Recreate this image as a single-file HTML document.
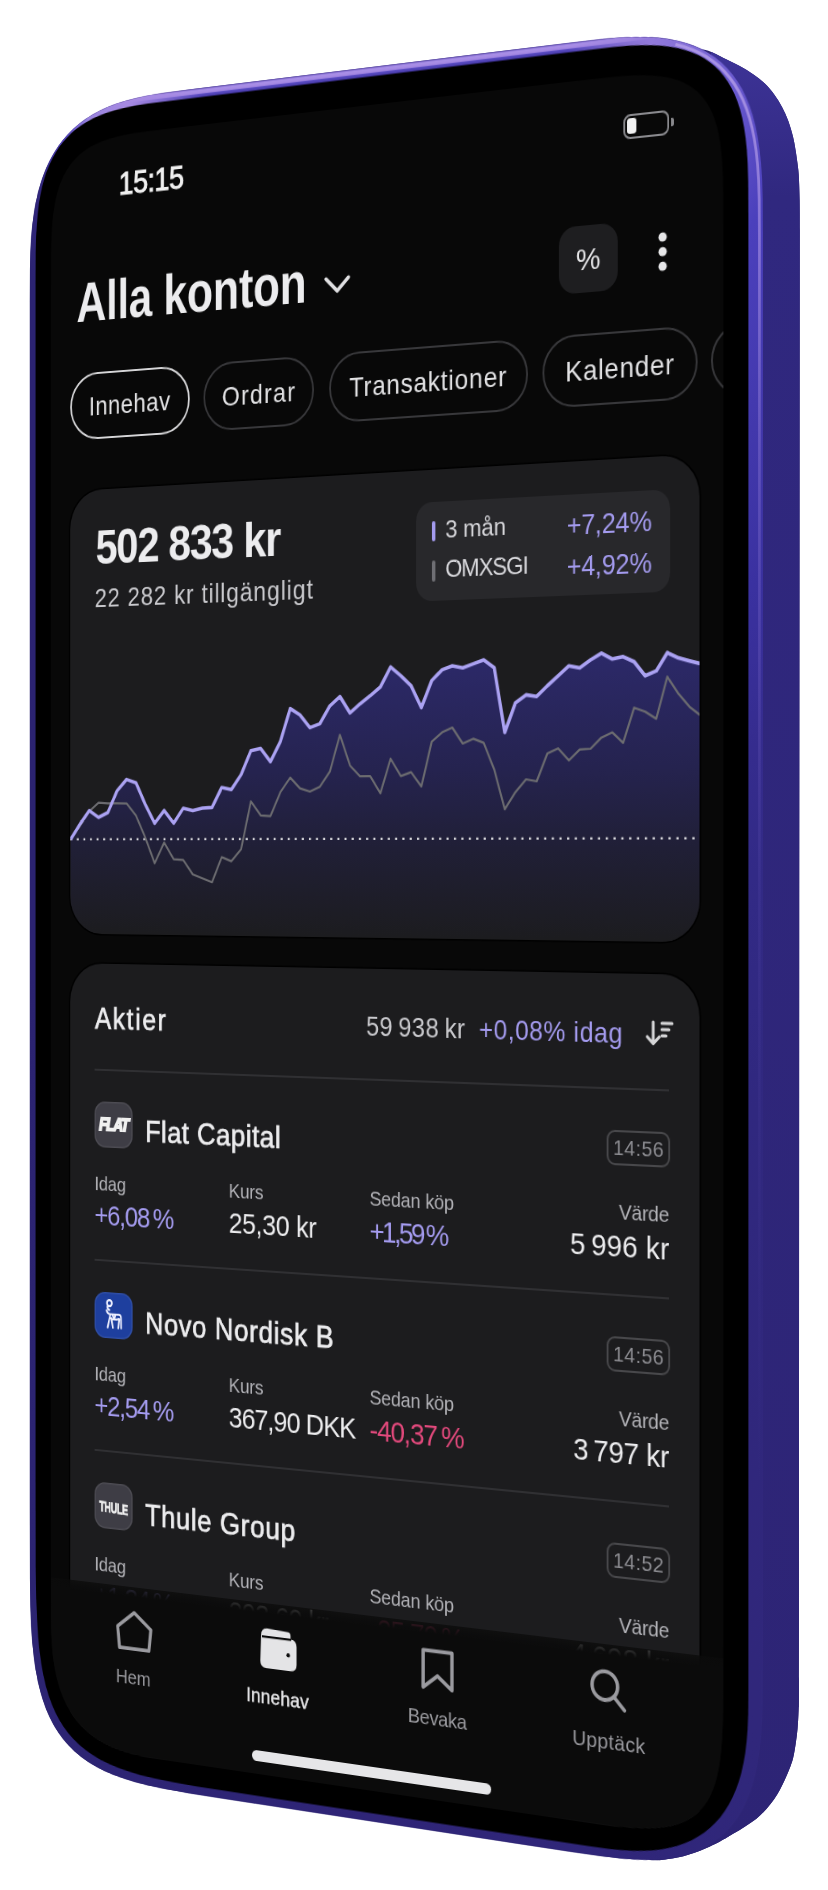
<!DOCTYPE html>
<html><head><meta charset="utf-8"><title>Innehav</title>
<style>
html,body{margin:0;padding:0;background:#fff;width:828px;height:1890px;overflow:hidden}
#body{position:absolute;left:0;top:0}
#front{position:absolute;left:0;top:0;width:880px;height:1784px;transform-origin:0 0;transform:matrix3d(0.765480985,-0.108519995,0,-0.000127757871,1.90460943e-13,0.943553849,0,-1.53032662e-15,0,0,1,0,19.9211566,100.722506,0,1)}
#z{zoom:2;width:440px;height:892px;position:relative}
#frame{position:absolute;left:0;top:0;overflow:visible}
#rim{position:absolute;left:6.4px;top:5.1px;width:424.1px;height:878.2px;clip-path:path('M322.10 -0.00 L339.34 0.11 L348.65 0.43 L356.25 0.97 L362.88 1.73 L368.83 2.70 L374.27 3.89 L379.28 5.30 L383.92 6.92 L388.24 8.77 L392.26 10.84 L396.00 13.13 L399.48 15.65 L402.71 18.40 L405.70 21.39 L408.45 24.62 L410.97 28.10 L413.26 31.84 L415.33 35.86 L417.18 40.18 L418.80 44.82 L420.21 49.83 L421.40 55.27 L422.37 61.22 L423.13 67.85 L423.67 75.45 L423.99 84.76 L424.10 102.00 L424.10 776.20 L423.99 793.44 L423.67 802.75 L423.13 810.35 L422.37 816.98 L421.40 822.93 L420.21 828.37 L418.80 833.38 L417.18 838.02 L415.33 842.34 L413.26 846.36 L410.97 850.10 L408.45 853.58 L405.70 856.81 L402.71 859.80 L399.48 862.55 L396.00 865.07 L392.26 867.36 L388.24 869.43 L383.92 871.28 L379.28 872.90 L374.27 874.31 L368.83 875.50 L362.88 876.47 L356.25 877.23 L348.65 877.77 L339.34 878.09 L322.10 878.20 L140.00 878.20 L100.46 878.09 L86.24 877.78 L75.70 877.25 L67.06 876.51 L59.64 875.55 L53.10 874.38 L47.24 872.99 L41.94 871.37 L37.12 869.53 L32.71 867.45 L28.67 865.13 L24.97 862.56 L21.57 859.73 L18.47 856.63 L15.64 853.23 L13.07 849.53 L10.75 845.49 L8.67 841.08 L6.83 836.26 L5.21 830.96 L3.82 825.10 L2.65 818.56 L1.69 811.14 L0.95 802.50 L0.42 791.96 L0.11 777.74 L0.00 738.20 L0.00 102.00 L0.11 84.76 L0.43 75.45 L0.97 67.85 L1.73 61.22 L2.70 55.27 L3.89 49.83 L5.30 44.82 L6.92 40.18 L8.77 35.86 L10.84 31.84 L13.13 28.10 L15.65 24.62 L18.40 21.39 L21.39 18.40 L24.62 15.65 L28.10 13.13 L31.84 10.84 L35.86 8.77 L40.18 6.92 L44.82 5.30 L49.83 3.89 L55.27 2.70 L61.22 1.73 L67.85 0.97 L75.45 0.43 L84.76 0.11 L102.00 -0.00 Z');
background:conic-gradient(from 0deg at 50% 50%,#a68ae2 0deg,#9c82de 18deg,#6d5cd0 25deg,#4b40bc 31deg,#4238ac 40deg,#3a31a0 50deg,#352c8e 65deg,#322a86 80deg,#30287f 110deg,#30277b 150deg,#2f2577 180deg,#2c2472 210deg,#2b2370 270deg,#2b2371 329deg,#33287e 333.2deg,#4a3cb0 334.7deg,#5b4bc4 336deg,#9a84de 338deg,#a68ae2 341deg,#a68ae2 360deg)}
#scr{position:absolute;left:20px;top:24px;width:390px;height:844px;background:#080808;clip-path:path('M310.00 0.00 L329.29 0.07 L337.26 0.27 L343.34 0.61 L348.42 1.09 L352.84 1.70 L356.79 2.45 L360.35 3.34 L363.59 4.37 L366.57 5.55 L369.30 6.88 L371.82 8.35 L374.14 9.98 L376.27 11.77 L378.23 13.73 L380.02 15.86 L381.65 18.18 L383.12 20.70 L384.45 23.43 L385.63 26.41 L386.66 29.65 L387.55 33.21 L388.30 37.16 L388.91 41.58 L389.39 46.66 L389.73 52.74 L389.93 60.71 L390.00 80.00 L390.00 744.00 L389.93 776.05 L389.73 786.26 L389.39 793.64 L388.91 799.61 L388.30 804.68 L387.54 809.11 L386.64 813.04 L385.60 816.58 L384.41 819.79 L383.06 822.70 L381.56 825.36 L379.89 827.80 L378.04 830.02 L376.02 832.04 L373.80 833.89 L371.36 835.56 L368.70 837.06 L365.79 838.41 L362.58 839.60 L359.04 840.64 L355.11 841.54 L350.68 842.30 L345.61 842.91 L339.64 843.39 L332.26 843.73 L322.05 843.93 L290.00 844.00 L76.00 844.00 L63.87 843.92 L57.06 843.67 L51.44 843.25 L46.50 842.67 L42.05 841.92 L37.96 841.01 L34.19 839.93 L30.68 838.68 L27.40 837.26 L24.35 835.68 L21.51 833.92 L18.85 831.99 L16.39 829.89 L14.11 827.61 L12.01 825.15 L10.08 822.49 L8.32 819.65 L6.74 816.60 L5.32 813.32 L4.07 809.81 L2.99 806.04 L2.08 801.95 L1.33 797.50 L0.75 792.56 L0.33 786.94 L0.08 780.13 L0.00 768.00 L0.00 80.00 L0.07 60.71 L0.27 52.74 L0.61 46.66 L1.09 41.58 L1.70 37.16 L2.45 33.21 L3.34 29.65 L4.37 26.41 L5.55 23.43 L6.88 20.70 L8.35 18.18 L9.98 15.86 L11.77 13.73 L13.73 11.77 L15.86 9.98 L18.18 8.35 L20.70 6.88 L23.43 5.55 L26.41 4.37 L29.65 3.34 L33.21 2.45 L37.16 1.70 L41.58 1.09 L46.66 0.61 L52.74 0.27 L60.71 0.07 L80.00 0.00 Z');overflow:hidden;font-family:"Liberation Sans",Arial,sans-serif;color:#e8e8ea}
.t{position:absolute;white-space:nowrap;line-height:1}
</style></head>
<body>
<svg id="body" width="828" height="1890" viewBox="0 0 828 1890">
<defs>
<linearGradient id="sideg" x1="0" y1="0" x2="0" y2="1">
<stop offset="0" stop-color="#3d3397"/><stop offset="0.08" stop-color="#30287f"/><stop offset="1" stop-color="#2d2475"/>
</linearGradient>
</defs>
<path d="M570.75 42.63 L602.45 38.95 L619.71 37.50 L633.86 36.89 L646.25 36.94 L657.41 37.61 L667.64 38.84 L677.10 40.64 L685.89 42.98 L694.09 45.87 L701.73 49.30 C703.35 49.75 707.17 50.25 711.40 52.00 C715.63 53.75 721.87 57.18 727.10 59.80 C732.33 62.42 738.35 65.22 742.80 67.70 C747.25 70.18 750.13 72.08 753.80 74.70 C757.47 77.32 761.40 80.12 764.80 83.40 C768.20 86.68 771.33 90.48 774.20 94.40 C777.07 98.32 779.65 102.47 782.00 106.90 C784.35 111.33 786.47 116.02 788.30 121.00 C790.13 125.98 791.82 132.08 793.00 136.80 C794.18 141.52 794.73 145.43 795.40 149.30 C796.07 153.17 796.45 155.78 797.00 160.00 C797.55 164.22 798.27 167.93 798.70 174.60 C799.13 181.27 799.42 190.77 799.60 200.00 C799.78 209.23 799.77 225.00 799.80 230.00 L799.2 900 L799.0 1400 C799.00 1446.67 799.02 1630.00 799.00 1680.00 C798.98 1730.00 799.00 1694.25 798.90 1700.00 C798.80 1705.75 798.63 1709.67 798.40 1714.50 C798.17 1719.33 797.95 1724.17 797.50 1729.00 C797.05 1733.83 796.43 1738.67 795.70 1743.50 C794.97 1748.33 794.13 1753.78 793.10 1758.00 C792.07 1762.22 790.88 1765.18 789.50 1768.80 C788.12 1772.42 786.40 1776.22 784.80 1779.70 C783.20 1783.18 781.68 1786.43 779.90 1789.70 C778.12 1792.97 776.35 1796.08 774.10 1799.30 C771.85 1802.52 769.30 1805.78 766.40 1809.00 C763.50 1812.22 760.25 1815.70 756.70 1818.60 C753.15 1821.50 749.12 1823.82 745.10 1826.40 C741.08 1828.98 736.78 1831.60 732.60 1834.10 C728.42 1836.60 725.77 1838.50 720.00 1841.40 C714.23 1844.30 704.90 1848.85 698.00 1851.50 C691.10 1854.15 685.05 1855.85 678.60 1857.30 C672.15 1858.75 664.69 1859.81 659.30 1860.20 C653.91 1860.59 648.42 1859.76 646.25 1859.67 L646.25 1859.67 L633.86 1859.36 L619.71 1858.32 L602.45 1856.35 L570.75 1851.74 L253.54 1803.29 L188.67 1793.18 L165.67 1789.05 L148.73 1785.45 L134.92 1781.92 L123.10 1778.29 L112.72 1774.46 L103.46 1770.40 L95.11 1766.05 L87.52 1761.38 L80.60 1756.38 L74.28 1751.02 L68.49 1745.27 L63.20 1739.11 L58.37 1732.51 L53.97 1725.42 L49.98 1717.82 L46.38 1709.65 L43.16 1700.84 L40.31 1691.30 L37.81 1680.93 L35.66 1669.55 L33.85 1656.93 L32.37 1642.70 L31.23 1626.21 L30.42 1606.19 L29.93 1579.24 L29.77 1504.48 L29.77 301.94 L29.93 269.34 L30.43 251.68 L31.27 237.23 L32.43 224.59 L33.93 213.17 L35.77 202.69 L37.94 192.97 L40.46 183.90 L43.31 175.41 L46.52 167.43 L50.07 159.93 L53.98 152.88 L58.26 146.25 L62.91 140.04 L67.95 134.21 L73.38 128.77 L79.24 123.71 L85.55 119.01 L92.33 114.67 L99.65 110.67 L107.56 107.02 L116.17 103.69 L125.62 100.67 L136.18 97.92 L148.33 95.39 L163.29 92.93 L191.17 89.29 Z" fill="#2b2370"/>
<path d="M705 75 L711.40 52.00 C714.02 53.30 721.87 57.18 727.10 59.80 C732.33 62.42 738.35 65.22 742.80 67.70 C747.25 70.18 750.13 72.08 753.80 74.70 C757.47 77.32 761.40 80.12 764.80 83.40 C768.20 86.68 771.33 90.48 774.20 94.40 C777.07 98.32 779.65 102.47 782.00 106.90 C784.35 111.33 786.47 116.02 788.30 121.00 C790.13 125.98 791.82 132.08 793.00 136.80 C794.18 141.52 794.73 145.43 795.40 149.30 C796.07 153.17 796.45 155.78 797.00 160.00 C797.55 164.22 798.27 167.93 798.70 174.60 C799.13 181.27 799.42 190.77 799.60 200.00 C799.78 209.23 799.77 225.00 799.80 230.00 L799.2 900 L799.0 1400 C799.00 1446.67 799.02 1630.00 799.00 1680.00 C798.98 1730.00 799.00 1694.25 798.90 1700.00 C798.80 1705.75 798.63 1709.67 798.40 1714.50 C798.17 1719.33 797.95 1724.17 797.50 1729.00 C797.05 1733.83 796.43 1738.67 795.70 1743.50 C794.97 1748.33 794.13 1753.78 793.10 1758.00 C792.07 1762.22 790.88 1765.18 789.50 1768.80 C788.12 1772.42 786.40 1776.22 784.80 1779.70 C783.20 1783.18 781.68 1786.43 779.90 1789.70 C778.12 1792.97 776.35 1796.08 774.10 1799.30 C771.85 1802.52 769.30 1805.78 766.40 1809.00 C763.50 1812.22 760.25 1815.70 756.70 1818.60 C753.15 1821.50 749.12 1823.82 745.10 1826.40 C741.08 1828.98 736.78 1831.60 732.60 1834.10 C728.42 1836.60 725.77 1838.50 720.00 1841.40 C714.23 1844.30 704.90 1848.85 698.00 1851.50 C691.10 1854.15 685.05 1855.85 678.60 1857.30 C672.15 1858.75 662.52 1859.72 659.30 1860.20 L705 1830 Z" fill="url(#sideg)"/>
</svg>
<div id="front"><div id="z">
<div id="rim"></div>
<svg id="frame" width="440" height="892" viewBox="0 0 440 892">
<defs>
</defs>
<linearGradient id="hlg" x1="0" y1="0" x2="0" y2="700" gradientUnits="userSpaceOnUse"><stop offset="0" stop-color="#b09ae8"/><stop offset="0.15" stop-color="#a08ae0" stop-opacity="0.7"/><stop offset="0.3" stop-color="#9a84dc" stop-opacity="0.35"/><stop offset="0.6" stop-color="#7a66cc" stop-opacity="0.1"/><stop offset="1" stop-color="#7a66cc" stop-opacity="0"/></linearGradient>
<path d="M384.75 12.09 L389.31 13.69 L393.54 15.50 L397.48 17.53 L401.15 19.77 L404.57 22.24 L407.73 24.94 L410.66 27.87 L413.36 31.03 L415.83 34.45 L418.07 38.12 L420.10 42.06 L421.91 46.29 L423.51 50.85 L424.89 55.76 L426.05 61.09 L427.01 66.92 L427.75 73.42 L428.28 80.87 L428.59 90.00 L428.70 106.90 L428.70 700" fill="none" stroke="url(#hlg)" stroke-width="1.4"/>
<clipPath id="rimclip"><path d="M328.50 5.10 L345.74 5.21 L355.05 5.53 L362.65 6.07 L369.28 6.83 L375.23 7.80 L380.67 8.99 L385.68 10.40 L390.32 12.02 L394.64 13.87 L398.66 15.94 L402.40 18.23 L405.88 20.75 L409.11 23.50 L412.10 26.49 L414.85 29.72 L417.37 33.20 L419.66 36.94 L421.73 40.96 L423.58 45.28 L425.20 49.92 L426.61 54.93 L427.80 60.37 L428.77 66.32 L429.53 72.95 L430.07 80.55 L430.39 89.86 L430.50 107.10 L430.50 781.30 L430.39 798.54 L430.07 807.85 L429.53 815.45 L428.77 822.08 L427.80 828.03 L426.61 833.47 L425.20 838.48 L423.58 843.12 L421.73 847.44 L419.66 851.46 L417.37 855.20 L414.85 858.68 L412.10 861.91 L409.11 864.90 L405.88 867.65 L402.40 870.17 L398.66 872.46 L394.64 874.53 L390.32 876.38 L385.68 878.00 L380.67 879.41 L375.23 880.60 L369.28 881.57 L362.65 882.33 L355.05 882.87 L345.74 883.19 L328.50 883.30 L146.40 883.30 L106.86 883.19 L92.64 882.88 L82.10 882.35 L73.46 881.61 L66.04 880.65 L59.50 879.48 L53.64 878.09 L48.34 876.47 L43.52 874.63 L39.11 872.55 L35.07 870.23 L31.37 867.66 L27.97 864.83 L24.87 861.73 L22.04 858.33 L19.47 854.63 L17.15 850.59 L15.07 846.18 L13.23 841.36 L11.61 836.06 L10.22 830.20 L9.05 823.66 L8.09 816.24 L7.35 807.60 L6.82 797.06 L6.51 782.84 L6.40 743.30 L6.40 107.10 L6.51 89.86 L6.83 80.55 L7.37 72.95 L8.13 66.32 L9.10 60.37 L10.29 54.93 L11.70 49.92 L13.32 45.28 L15.17 40.96 L17.24 36.94 L19.53 33.20 L22.05 29.72 L24.80 26.49 L27.79 23.50 L31.02 20.75 L34.50 18.23 L38.24 15.94 L42.26 13.87 L46.58 12.02 L51.22 10.40 L56.23 8.99 L61.67 7.80 L67.62 6.83 L74.25 6.07 L81.85 5.53 L91.16 5.21 L108.40 5.10 Z"/></clipPath>
<linearGradient id="topband" x1="0" y1="5.1" x2="0" y2="10.2" gradientUnits="userSpaceOnUse"><stop offset="0" stop-color="#3a2f8e"/><stop offset="0.1" stop-color="#8f78d8"/><stop offset="0.22" stop-color="#a98fe6"/><stop offset="0.5" stop-color="#a488e2"/><stop offset="0.62" stop-color="#5a4bc2"/><stop offset="1" stop-color="#3b2f98"/></linearGradient>
<linearGradient id="hfade" x1="70" y1="0" x2="372" y2="0" gradientUnits="userSpaceOnUse"><stop offset="0" stop-color="#fff" stop-opacity="0"/><stop offset="0.15" stop-color="#fff"/><stop offset="0.85" stop-color="#fff"/><stop offset="1" stop-color="#fff" stop-opacity="0"/></linearGradient>
<mask id="hm"><rect x="70" y="0" width="302" height="20" fill="url(#hfade)"/></mask>
<g clip-path="url(#rimclip)" mask="url(#hm)"><rect x="70" y="5.1" width="302" height="5.2" fill="url(#topband)"/></g>
<path d="M335.00 9.70 L351.51 9.79 L359.80 10.05 L366.42 10.49 L372.13 11.10 L377.21 11.89 L381.82 12.86 L386.04 14.01 L389.93 15.33 L393.53 16.84 L396.88 18.53 L399.98 20.40 L402.85 22.47 L405.52 24.73 L407.97 27.18 L410.23 29.85 L412.30 32.72 L414.17 35.82 L415.86 39.17 L417.37 42.77 L418.69 46.66 L419.84 50.88 L420.81 55.49 L421.60 60.57 L422.21 66.28 L422.65 72.90 L422.91 81.19 L423.00 97.70 L423.00 794.20 L422.90 805.34 L422.59 812.46 L422.08 818.54 L421.36 824.01 L420.43 829.03 L419.31 833.70 L417.97 838.07 L416.44 842.16 L414.70 846.01 L412.76 849.62 L410.61 853.01 L408.27 856.19 L405.71 859.16 L402.96 861.91 L399.99 864.47 L396.81 866.81 L393.42 868.96 L389.81 870.90 L385.96 872.64 L381.87 874.17 L377.50 875.51 L372.83 876.63 L367.81 877.56 L362.34 878.28 L356.26 878.79 L349.14 879.10 L338.00 879.20 L160.20 879.20 L112.13 879.10 L96.81 878.79 L85.73 878.28 L76.78 877.57 L69.18 876.65 L62.54 875.51 L56.64 874.17 L51.33 872.60 L46.52 870.81 L42.15 868.79 L38.15 866.54 L34.50 864.03 L31.17 861.27 L28.13 858.23 L25.37 854.90 L22.86 851.25 L20.61 847.25 L18.59 842.88 L16.80 838.07 L15.23 832.76 L13.89 826.86 L12.75 820.22 L11.83 812.62 L11.12 803.67 L10.61 792.59 L10.30 777.27 L10.20 729.20 L10.20 97.70 L10.29 81.19 L10.55 72.90 L10.99 66.28 L11.60 60.57 L12.39 55.49 L13.36 50.88 L14.51 46.66 L15.83 42.77 L17.34 39.17 L19.03 35.82 L20.90 32.72 L22.97 29.85 L25.23 27.18 L27.68 24.73 L30.35 22.47 L33.22 20.40 L36.32 18.53 L39.67 16.84 L43.27 15.33 L47.16 14.01 L51.38 12.86 L55.99 11.89 L61.07 11.10 L66.78 10.49 L73.40 10.05 L81.69 9.79 L98.20 9.70 Z" fill="#000"/>
</svg>
<div id="scr">
<div class="t" style="left:43.30px;top:17.38px;font-size:16.80px;color:#f0f0f0;letter-spacing:-0.32px;-webkit-text-stroke:0.45px currentColor;">15:15</div>
<div style="position:absolute;left:336.80px;top:19.00px;width:24.80px;height:11.80px;border:1.1px solid #8a8a8e;border-radius:3.8px;box-sizing:border-box"></div>
<div style="position:absolute;left:339.00px;top:21.20px;width:5.20px;height:7.40px;background:#f2f2f2;border-radius:1.6px"></div>
<div style="position:absolute;left:362.40px;top:22.90px;width:1.60px;height:4.10px;background:#8a8a8e;border-radius:0 1px 1px 0"></div>
<div class="t" style="left:16.40px;top:71.68px;font-size:29.20px;color:#ececee;font-weight:700;letter-spacing:-0.16px;transform:scaleX(0.9);transform-origin:0 0;">Alla konton</div>
<svg style="position:absolute;left:0;top:0" width="390" height="130"><polyline points="169.6,85.2 176.2,91.6 182.8,85.2" fill="none" stroke="#e0e0e2" stroke-width="1.9" stroke-linecap="round" stroke-linejoin="round"/><circle cx="358" cy="79.6" r="2.2" fill="#e6e6e8"/><circle cx="358" cy="86.6" r="2.2" fill="#e6e6e8"/><circle cx="358" cy="93.6" r="2.2" fill="#e6e6e8"/></svg>
<div style="position:absolute;left:302.20px;top:70.70px;width:31.60px;height:32.20px;background:#1e1e20;border-radius:9px"></div>
<div class="t" style="left:303.00px;width:30.00px;text-align:center;top:79.70px;font-size:15.00px;color:#e6e6e8;">%</div>
<div style="position:absolute;left:12.50px;top:123.20px;width:74.80px;height:35.00px;border:1.4px solid #d6d6d8;border-radius:17.5px;box-sizing:border-box"></div>
<div class="t" style="left:12.63px;width:74.80px;text-align:center;top:134.03px;font-size:13.90px;color:#e2e2e4;letter-spacing:0.26px;">Innehav</div>
<div style="position:absolute;left:96.10px;top:123.20px;width:66.30px;height:35.00px;border:1px solid #38383b;border-radius:17.5px;box-sizing:border-box"></div>
<div class="t" style="left:96.49px;width:66.30px;text-align:center;top:134.03px;font-size:13.90px;color:#e2e2e4;letter-spacing:0.77px;">Ordrar</div>
<div style="position:absolute;left:171.30px;top:123.20px;width:113.70px;height:35.00px;border:1px solid #38383b;border-radius:17.5px;box-sizing:border-box"></div>
<div class="t" style="left:171.52px;width:113.70px;text-align:center;top:134.03px;font-size:13.90px;color:#e2e2e4;letter-spacing:0.44px;">Transaktioner</div>
<div style="position:absolute;left:293.20px;top:123.20px;width:83.10px;height:35.00px;border:1px solid #38383b;border-radius:17.5px;box-sizing:border-box"></div>
<div class="t" style="left:293.40px;width:83.10px;text-align:center;top:134.03px;font-size:13.90px;color:#e2e2e4;letter-spacing:0.40px;">Kalender</div>
<div style="position:absolute;left:383.50px;top:123.20px;width:86.50px;height:35.00px;border:1px solid #38383b;border-radius:17.5px;box-sizing:border-box"></div>
<div style="position:absolute;left:12.3px;top:184.5px;width:365.4px;height:232.7px;background:#1c1c1e;border-radius:20px;overflow:hidden;box-shadow:0 0 0 0.8px #000"><svg style="position:absolute;left:0;top:0" width="365.4" height="232.7"><defs><linearGradient id="cg" x1="0" y1="0" x2="0" y2="1"><stop offset="0" stop-color="#2c2969"/><stop offset="0.4" stop-color="#25234f"/><stop offset="0.68" stop-color="#201f36"/><stop offset="1" stop-color="#1c1c1f"/></linearGradient></defs><path d="M0.3 182.9 L6.2 175.0 L12.1 167.9 L18.0 171.5 L23.9 169.0 L29.8 157.6 L35.7 151.8 L41.6 153.6 L47.4 164.8 L53.3 174.7 L59.2 168.1 L65.1 174.7 L71.0 167.0 L76.9 168.2 L82.8 167.0 L88.7 166.7 L94.6 156.5 L100.5 157.6 L106.4 150.0 L112.3 137.9 L118.2 136.8 L124.1 143.6 L130.0 133.5 L135.9 116.8 L141.7 120.1 L147.6 126.7 L153.5 124.8 L159.4 115.9 L165.3 111.3 L171.2 119.7 L177.1 115.2 L183.0 111.3 L188.9 107.0 L194.8 97.2 L200.7 101.7 L206.6 106.8 L212.5 117.8 L218.4 104.5 L224.3 99.3 L230.1 97.5 L236.0 98.6 L241.9 96.8 L247.8 95.0 L253.7 99.0 L259.6 130.9 L265.5 116.5 L271.4 112.7 L277.3 113.6 L283.2 108.5 L289.1 103.8 L295.0 99.1 L300.9 100.2 L306.8 96.5 L312.7 93.4 L318.6 96.4 L324.4 95.4 L330.3 98.0 L336.2 104.9 L342.1 102.7 L348.0 94.1 L353.9 96.8 L359.8 98.4 L365.7 99.9 L365.7 232 L0.3 232 Z" fill="url(#cg)"/><line x1="0" y1="182.9" x2="366" y2="182.9" stroke="#d8d8dc" stroke-width="1.1" stroke-dasharray="1.2 3"/><path d="M0.3 182.9 L6.2 176.0 L12.1 168.3 L18.0 163.8 L23.9 164.2 L29.8 164.2 L35.7 164.3 L41.6 170.6 L47.4 182.0 L53.3 195.4 L59.2 184.7 L65.1 193.3 L71.0 193.7 L76.9 201.1 L82.8 203.1 L88.7 205.1 L94.6 192.2 L100.5 194.3 L106.4 188.1 L112.3 163.7 L118.2 170.9 L124.1 171.3 L130.0 159.2 L135.9 151.8 L141.7 157.3 L147.6 159.0 L153.5 156.6 L159.4 149.0 L165.3 130.6 L171.2 146.1 L177.1 151.6 L183.0 151.6 L188.9 160.2 L194.8 143.0 L200.7 151.7 L206.6 149.8 L212.5 157.0 L218.4 134.8 L224.3 130.3 L230.1 128.0 L236.0 136.0 L241.9 133.7 L247.8 135.8 L253.7 149.0 L259.6 168.6 L265.5 160.2 L271.4 154.0 L277.3 155.0 L283.2 141.5 L289.1 139.1 L295.0 145.0 L300.9 139.8 L306.8 139.5 L312.7 134.2 L318.6 131.8 L324.4 136.9 L330.3 120.1 L336.2 122.1 L342.1 125.6 L348.0 105.6 L353.9 113.9 L359.8 120.3 L365.7 124.6" fill="none" stroke="#6c6c70" stroke-width="1.1" stroke-linejoin="round"/><path d="M0.3 182.9 L6.2 175.0 L12.1 167.9 L18.0 171.5 L23.9 169.0 L29.8 157.6 L35.7 151.8 L41.6 153.6 L47.4 164.8 L53.3 174.7 L59.2 168.1 L65.1 174.7 L71.0 167.0 L76.9 168.2 L82.8 167.0 L88.7 166.7 L94.6 156.5 L100.5 157.6 L106.4 150.0 L112.3 137.9 L118.2 136.8 L124.1 143.6 L130.0 133.5 L135.9 116.8 L141.7 120.1 L147.6 126.7 L153.5 124.8 L159.4 115.9 L165.3 111.3 L171.2 119.7 L177.1 115.2 L183.0 111.3 L188.9 107.0 L194.8 97.2 L200.7 101.7 L206.6 106.8 L212.5 117.8 L218.4 104.5 L224.3 99.3 L230.1 97.5 L236.0 98.6 L241.9 96.8 L247.8 95.0 L253.7 99.0 L259.6 130.9 L265.5 116.5 L271.4 112.7 L277.3 113.6 L283.2 108.5 L289.1 103.8 L295.0 99.1 L300.9 100.2 L306.8 96.5 L312.7 93.4 L318.6 96.4 L324.4 95.4 L330.3 98.0 L336.2 104.9 L342.1 102.7 L348.0 94.1 L353.9 96.8 L359.8 98.4 L365.7 99.9" fill="none" stroke="#aba2f2" stroke-width="1.8" stroke-linejoin="round"/></svg></div>
<div class="t" style="left:28.60px;top:202.44px;font-size:25.00px;color:#ececee;font-weight:700;letter-spacing:-0.71px;">502 833 kr</div>
<div class="t" style="left:28.10px;top:234.52px;font-size:13.80px;color:#c9c9cd;letter-spacing:0.53px;">22 282 kr tillgängligt</div>
<div style="position:absolute;left:222.10px;top:200.30px;width:139.80px;height:49.10px;background:#28282b;border-radius:9px"></div>
<div style="position:absolute;left:231.00px;top:209.80px;width:1.90px;height:10.20px;background:#a49bef;border-radius:1px"></div>
<div style="position:absolute;left:231.00px;top:229.60px;width:1.90px;height:10.20px;background:#6f6f74;border-radius:1px"></div>
<div class="t" style="left:238.60px;top:208.50px;font-size:12.40px;color:#d8d8dc;letter-spacing:-0.08px;">3 mån</div>
<div class="t" style="left:238.60px;top:228.20px;font-size:12.40px;color:#d8d8dc;letter-spacing:-0.56px;">OMXSGI</div>
<div class="t" style="right:37.82px;top:208.69px;font-size:13.60px;color:#a49bef;letter-spacing:-0.12px;">+7,24%</div>
<div class="t" style="right:37.82px;top:228.39px;font-size:13.60px;color:#a49bef;letter-spacing:-0.12px;">+4,92%</div>
<div style="position:absolute;left:12.30px;top:432.60px;width:365.40px;height:497.40px;background:#1c1c1e;border-radius:20px;box-shadow:0 0 0 0.8px #000"></div>
<div class="t" style="left:28.20px;top:453.96px;font-size:15.40px;color:#ececee;letter-spacing:1.05px;-webkit-text-stroke:0.35px currentColor;">Aktier</div>
<div class="t" style="right:139.93px;top:454.69px;font-size:13.60px;color:#c9c9cd;letter-spacing:0.27px;">59 938 kr</div>
<div class="t" style="right:53.10px;top:454.69px;font-size:13.60px;color:#a49bef;letter-spacing:0.30px;">+0,08% idag</div>
<svg style="position:absolute;left:348px;top:453px" width="18" height="16" viewBox="0 0 18 16"><path d="M5 2.5 V12.6 M1.8 9.6 L5 12.8 L8.2 9.6" fill="none" stroke="#d6d6d8" stroke-width="1.5" stroke-linecap="round" stroke-linejoin="round"/><path d="M9.6 3 H15 M9.6 6 H13.4 M9.6 9 H11.8" fill="none" stroke="#d6d6d8" stroke-width="1.5" stroke-linecap="round"/></svg>
<div style="position:absolute;left:28.10px;top:487.60px;width:333.50px;height:1.00px;background:#303033"></div>
<div style="position:absolute;left:28.00px;top:504.60px;width:24.00px;height:24.00px;background:#3e3d45;border-radius:6.5px;box-shadow:inset 0 0 0 0.8px rgba(255,255,255,0.08)"></div>
<div class="t" style="left:28px;top:511.90px;width:24px;text-align:center;font-size:9.4px;font-weight:700;font-style:italic;color:#f0f0f0;letter-spacing:-0.9px;-webkit-text-stroke:0.9px #f0f0f0;transform:scaleX(0.92)">FLAT</div>
<div class="t" style="left:59.90px;top:511.31px;font-size:15.70px;color:#ececee;letter-spacing:0.31px;-webkit-text-stroke:0.35px currentColor;">Flat Capital</div>
<div style="position:absolute;left:328.20px;top:508.10px;width:33.70px;height:16.70px;border:1px solid #48484b;border-radius:4.5px;box-sizing:border-box"></div>
<div class="t" style="left:328.32px;width:33.70px;text-align:center;top:511.60px;font-size:10.40px;color:#8d8d92;letter-spacing:0.25px;">14:56</div>
<div class="t" style="left:28.00px;top:542.28px;font-size:10.30px;color:#b2b2b7;letter-spacing:-0.08px;">Idag</div>
<div class="t" style="left:111.40px;top:542.28px;font-size:10.30px;color:#b2b2b7;letter-spacing:-0.06px;">Kurs</div>
<div class="t" style="left:195.10px;top:542.28px;font-size:10.30px;color:#b2b2b7;letter-spacing:-0.09px;">Sedan köp</div>
<div class="t" style="right:28.52px;top:542.28px;font-size:10.30px;color:#b2b2b7;letter-spacing:-0.12px;">Värde</div>
<div class="t" style="left:28.00px;top:556.30px;font-size:15.00px;color:#a49bef;letter-spacing:-0.72px;">+6,08 %</div>
<div class="t" style="left:111.40px;top:556.30px;font-size:15.00px;color:#ececee;letter-spacing:-0.21px;">25,30 kr</div>
<div class="t" style="left:195.10px;top:556.30px;font-size:15.00px;color:#a49bef;letter-spacing:-1.42px;">+1,59 %</div>
<div class="t" style="right:28.34px;top:556.30px;font-size:15.00px;color:#ececee;letter-spacing:0.06px;">5 996 kr</div>
<div style="position:absolute;left:28.10px;top:586.80px;width:333.50px;height:1.00px;background:#303033"></div>
<div style="position:absolute;left:28.00px;top:604.10px;width:24.00px;height:24.00px;background:#1e3f9e;border-radius:6.5px;box-shadow:inset 0 0 0 0.8px rgba(255,255,255,0.08)"></div>
<svg style="position:absolute;left:28px;top:604.10px" width="24" height="24" viewBox="0 0 24 24"><g fill="none" stroke="#eef0ff" stroke-width="1.05" stroke-linecap="round" stroke-linejoin="round"><circle cx="9.4" cy="5.6" r="1.55"/><path d="M8.2 7.4 Q8 9 9.4 9.2 M7.6 9.6 Q8.4 11.6 10 11.4 L15.4 11.4 Q16.7 11.5 16.7 13 L16.8 18.4 M15.6 13.6 L15 18.4 M10 11.6 Q9.4 13.6 8.3 18.4 M10.6 13.4 L11.6 18.4 M10.4 13.6 Q12.6 14.4 15.2 13.6 M11.2 11.5 L12.4 13.6 M13.2 11.5 L12.6 13.4"/></g></svg>
<div class="t" style="left:59.90px;top:610.81px;font-size:15.70px;color:#ececee;letter-spacing:0.40px;-webkit-text-stroke:0.35px currentColor;">Novo Nordisk B</div>
<div style="position:absolute;left:328.20px;top:607.60px;width:33.70px;height:16.70px;border:1px solid #48484b;border-radius:4.5px;box-sizing:border-box"></div>
<div class="t" style="left:328.32px;width:33.70px;text-align:center;top:611.10px;font-size:10.40px;color:#8d8d92;letter-spacing:0.25px;">14:56</div>
<div class="t" style="left:28.00px;top:641.78px;font-size:10.30px;color:#b2b2b7;letter-spacing:-0.08px;">Idag</div>
<div class="t" style="left:111.40px;top:641.78px;font-size:10.30px;color:#b2b2b7;letter-spacing:-0.06px;">Kurs</div>
<div class="t" style="left:195.10px;top:641.78px;font-size:10.30px;color:#b2b2b7;letter-spacing:-0.09px;">Sedan köp</div>
<div class="t" style="right:28.52px;top:641.78px;font-size:10.30px;color:#b2b2b7;letter-spacing:-0.12px;">Värde</div>
<div class="t" style="left:28.00px;top:655.80px;font-size:15.00px;color:#a49bef;letter-spacing:-0.72px;">+2,54 %</div>
<div class="t" style="left:111.40px;top:655.80px;font-size:15.00px;color:#ececee;letter-spacing:-0.54px;">367,90 DKK</div>
<div class="t" style="left:195.10px;top:655.80px;font-size:15.00px;color:#e2497c;letter-spacing:-0.62px;">-40,37 %</div>
<div class="t" style="right:28.58px;top:655.80px;font-size:15.00px;color:#ececee;letter-spacing:-0.18px;">3 797 kr</div>
<div style="position:absolute;left:28.10px;top:686.30px;width:333.50px;height:1.00px;background:#303033"></div>
<div style="position:absolute;left:28.00px;top:703.60px;width:24.00px;height:24.00px;background:#3e3d45;border-radius:6.5px;box-shadow:inset 0 0 0 0.8px rgba(255,255,255,0.08)"></div>
<div class="t" style="left:26px;top:712.40px;width:28px;text-align:center;font-size:7.6px;font-weight:700;color:#f2f2f2;letter-spacing:-0.2px;-webkit-text-stroke:0.35px #f2f2f2;transform:scaleX(0.74) skewY(2deg)">THULE</div>
<div class="t" style="left:59.90px;top:710.31px;font-size:15.70px;color:#ececee;letter-spacing:0.42px;-webkit-text-stroke:0.35px currentColor;">Thule Group</div>
<div style="position:absolute;left:328.20px;top:707.10px;width:33.70px;height:16.70px;border:1px solid #48484b;border-radius:4.5px;box-sizing:border-box"></div>
<div class="t" style="left:328.32px;width:33.70px;text-align:center;top:710.60px;font-size:10.40px;color:#8d8d92;letter-spacing:0.25px;">14:52</div>
<div class="t" style="left:28.00px;top:741.28px;font-size:10.30px;color:#b2b2b7;letter-spacing:-0.08px;">Idag</div>
<div class="t" style="left:111.40px;top:741.28px;font-size:10.30px;color:#b2b2b7;letter-spacing:-0.06px;">Kurs</div>
<div class="t" style="left:195.10px;top:741.28px;font-size:10.30px;color:#b2b2b7;letter-spacing:-0.09px;">Sedan köp</div>
<div class="t" style="right:28.52px;top:741.28px;font-size:10.30px;color:#b2b2b7;letter-spacing:-0.12px;">Värde</div>
<div class="t" style="left:28.00px;top:755.30px;font-size:15.00px;color:#a49bef;letter-spacing:-0.72px;">+1,34 %</div>
<div class="t" style="left:111.40px;top:755.30px;font-size:15.00px;color:#ececee;letter-spacing:-0.32px;">293,60 kr</div>
<div class="t" style="left:195.10px;top:755.30px;font-size:15.00px;color:#e2497c;letter-spacing:-0.62px;">-25,70 %</div>
<div class="t" style="right:28.41px;top:755.30px;font-size:15.00px;color:#ececee;letter-spacing:-0.01px;">4 698 kr</div>
<div style="position:absolute;left:0.00px;top:756.50px;width:390.00px;height:87.50px;background:linear-gradient(rgba(11,11,11,0.78),#0b0b0b 5px)"></div>
<svg style="position:absolute;left:0;top:756.5px" width="390" height="88" viewBox="0 756.5 390 88"><path d="M53 769.8 L63.4 777.6 L62.2 788.6 H43.8 L42.6 777.6 Z" fill="none" stroke="#9a9a9f" stroke-width="1.9" stroke-linejoin="round"/><path d="M131 773 Q131 769.2 134.5 769.2 L147 769.9 Q148.6 770 148.6 771.8 L148.6 773.2 Q152.2 773.6 152.2 777 L152.2 786 Q152.2 789.5 148.6 789.5 L134 789.5 Q130.5 789.5 130.5 786 Z" fill="#e4e4e6"/><path d="M131.5 773.6 L149 773.6" stroke="#0b0b0b" stroke-width="1.1"/><circle cx="147.2" cy="781.6" r="1.05" fill="#0b0b0b"/><path d="M226 770.2 H242.4 V788.6 L234.2 782.4 L226 788.6 Z" fill="none" stroke="#9a9a9f" stroke-width="1.9" stroke-linejoin="round"/><circle cx="327" cy="776.6" r="6.9" fill="none" stroke="#9a9a9f" stroke-width="1.9"/><path d="M332 781.6 L337.6 787.4" stroke="#9a9a9f" stroke-width="1.9" stroke-linecap="round"/></svg>
<div class="t" style="left:22.39px;width:60.00px;text-align:center;top:798.40px;font-size:10.40px;color:#9a9a9f;letter-spacing:-0.03px;">Hem</div>
<div class="t" style="left:105.73px;width:70.00px;text-align:center;top:798.80px;font-size:10.40px;color:#e4e4e6;letter-spacing:0.07px;-webkit-text-stroke:0.2px currentColor;">Innehav</div>
<div class="t" style="left:198.99px;width:70.00px;text-align:center;top:798.70px;font-size:10.40px;color:#9a9a9f;letter-spacing:-0.21px;">Bevaka</div>
<div class="t" style="left:294.10px;width:70.00px;text-align:center;top:798.70px;font-size:10.40px;color:#9a9a9f;letter-spacing:0.20px;">Upptäck</div>
<div style="position:absolute;left:125.50px;top:832.00px;width:139.00px;height:5.30px;background:#e6e6e8;border-radius:3px"></div>
</div>
</div></div>
</body></html>
